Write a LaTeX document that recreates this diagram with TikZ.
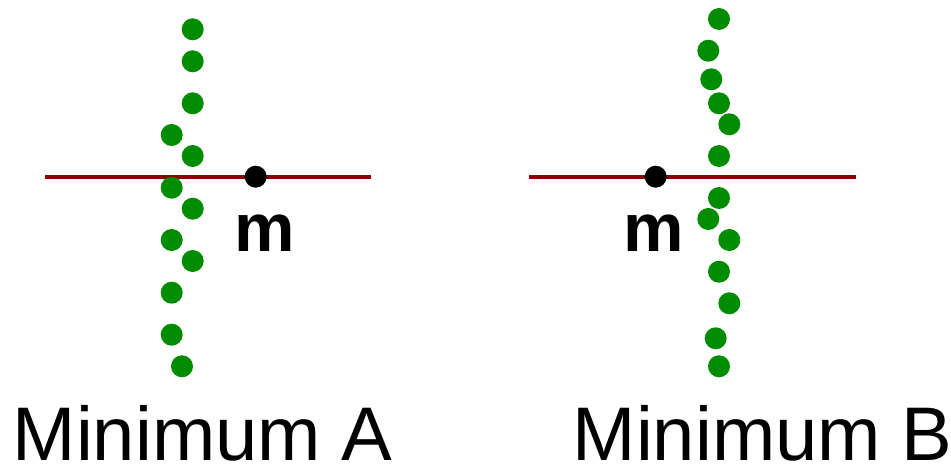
\documentclass[tikz,border=0pt]{standalone}
\usepackage{fontspec}
\setmainfont{Liberation Sans}
\definecolor{dotgreen}{RGB}{0,140,0}
\definecolor{linered}{RGB}{139,0,0}
\tikzset{
  gdot/.style={circle,fill=dotgreen,inner sep=0pt,minimum size=22pt},
  mdot/.style={circle,fill=black,inner sep=0pt,minimum size=22pt},
  axis/.style={draw=linered,line width=3.2pt},
  mlabel/.style={inner sep=0pt,anchor=base,font=\fontsize{68}{70}\selectfont\bfseries},
  biglabel/.style={inner sep=0pt,anchor=base west,font=\fontsize{76}{78}\selectfont}
}
\begin{document}
\begin{tikzpicture}[x=1pt,y=-1pt]
\useasboundingbox (0,0) rectangle (951,465);
% Minimum A
\coordinate (aL) at (45,177);
\coordinate (aR) at (371,177);
\draw[axis] (aL) -- (aR);
\foreach \i/\x/\y in {1/192.7/29.3,2/192.7/61.3,3/192.7/103.3,4/171.7/135,5/192.7/156,6/171.7/187.7,7/192.7/208.7,8/171.7/240,9/192.7/261,10/171.7/292.7,11/171.7/334.7,12/182/366.3}
  \node[gdot] (ga\i) at (\x,\y) {};
\node[mdot] (ma) at (255.7,176.7) {};
\node[mlabel] (mla) at (264.3,252) {m};
\node[biglabel] (la) at (12.5,460) {Minimum A};
% Minimum B
\coordinate (bL) at (529,177);
\coordinate (bR) at (855.5,177);
\draw[axis] (bL) -- (bR);
\foreach \i/\x/\y in {1/719/19,2/708.3/50.7,3/711.3/79.3,4/719/103.3,5/729.3/124.3,6/719/156,7/719/198,8/708.3/219,9/729.3/240,10/719/271.7,11/729.3/303.3,12/715.7/338.3,13/719/366.3}
  \node[gdot] (gb\i) at (\x,\y) {};
\node[mdot] (mb) at (655.7,176.7) {};
\node[mlabel] (mlb) at (654.2,252) {m};
\node[biglabel] (lb) at (572.5,460) {Minimum B};
\end{tikzpicture}
\end{document}
